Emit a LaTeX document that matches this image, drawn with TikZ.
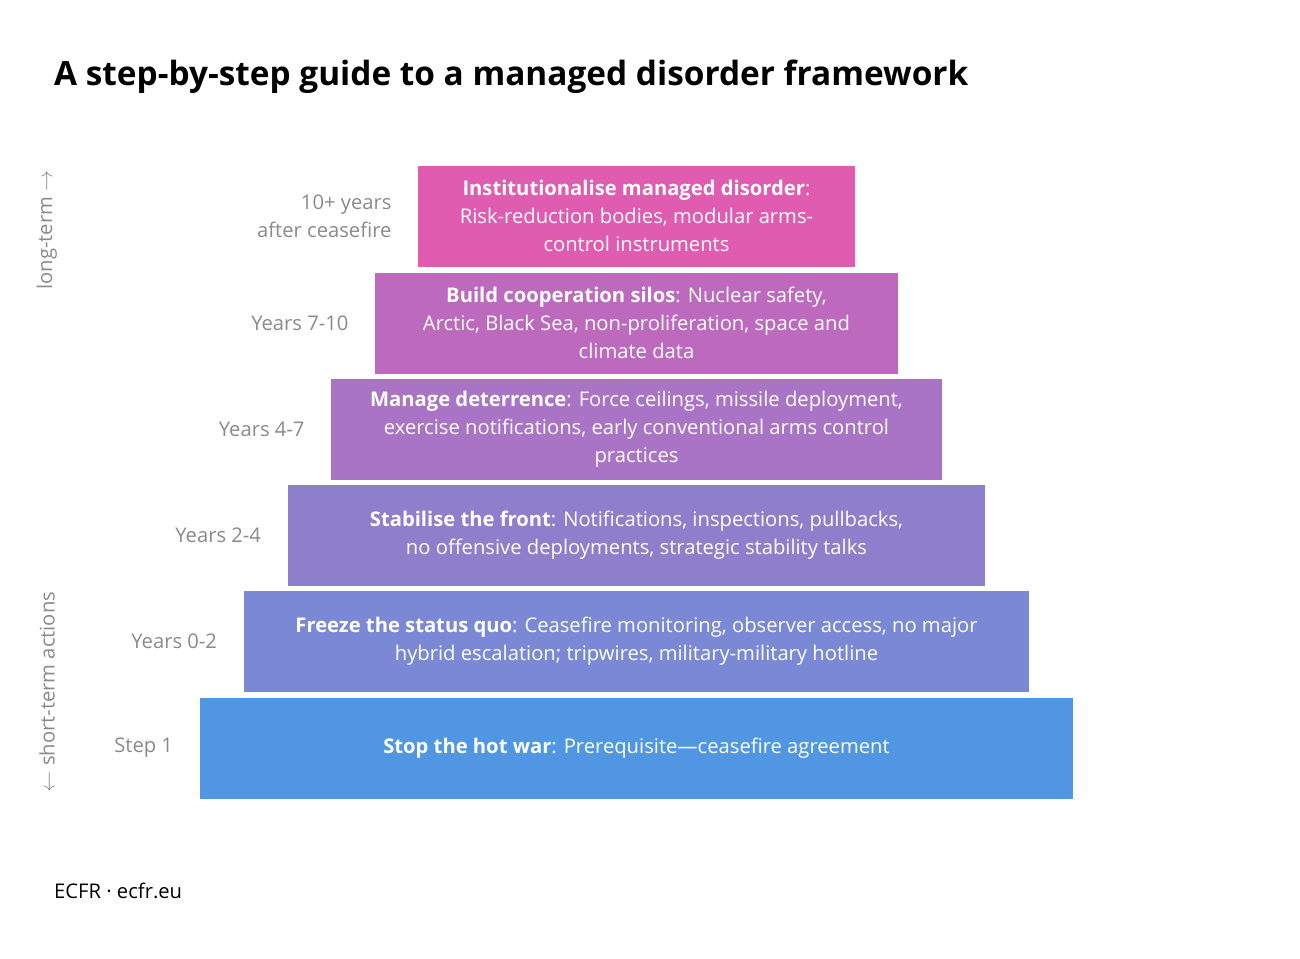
\documentclass[tikz,border=0pt]{standalone}
\usepackage{fontspec}
\setmainfont{Open Sans}
\usetikzlibrary{positioning}
\definecolor{stepA}{HTML}{E05CB1}
\definecolor{stepB}{HTML}{BC69BE}
\definecolor{stepC}{HTML}{A974C6}
\definecolor{stepD}{HTML}{8E7FCD}
\definecolor{stepE}{HTML}{7B88D6}
\definecolor{stepF}{HTML}{5196E2}
\definecolor{labelgray}{HTML}{8A8A8A}
\begin{document}
\begin{tikzpicture}[
        x=0.02cm, y=-0.02cm,
        % box style
        step_box/.style={
            draw=none,
            text=white,
            minimum height=2.02cm,
            align=center,
            inner sep=0pt,
            font=\fontsize{11.5}{16}\selectfont
        },
        % year label style
        year_label/.style={
            anchor=east,
            align=right,
            text=labelgray,
            font=\fontsize{11.5}{16}\selectfont
        },
        side_label/.style={
            rotate=90,
            text=labelgray,
            font=\fontsize{11.5}{14}\selectfont
        }
    ]
        \useasboundingbox (0,0) rectangle (1300,958);

        % title
        \node[anchor=west, font=\fontsize{19}{22}\selectfont\bfseries] (title) at (48,77)
            {A step-by-step guide to a managed disorder framework};

        % ==========================
        % steps
        % ==========================
        \node[step_box, fill=stepA, minimum width=8.74cm] (s6) at (636.5,216)
            {\textbf{Institutionalise managed disorder}:\\Risk-reduction bodies, modular arms-\\control instruments};
        \node[step_box, fill=stepB, minimum width=10.46cm] (s5) at (636.5,323)
            {\textbf{Build cooperation silos}: Nuclear safety,\\Arctic, Black Sea, non-proliferation, space and\\climate data};
        \node[step_box, fill=stepC, minimum width=12.22cm] (s4) at (636.5,429)
            {\textbf{Manage deterrence}: Force ceilings, missile deployment,\\exercise notifications, early conventional arms control\\practices};
        \node[step_box, fill=stepD, minimum width=13.96cm] (s3) at (636.5,535)
            {\textbf{Stabilise the front}: Notifications, inspections, pullbacks,\\no offensive deployments, strategic stability talks};
        \node[step_box, fill=stepE, minimum width=15.72cm] (s2) at (636.5,641)
            {\textbf{Freeze the status quo}: Ceasefire monitoring, observer access, no major\\hybrid escalation; tripwires, military-military hotline};
        \node[step_box, fill=stepF, minimum width=17.48cm] (s1) at (636.5,748)
            {\textbf{Stop the hot war}: Prerequisite---ceasefire agreement};

        % year labels
        \node[year_label, left=0.4cm of s6] (y6) {10+ years\\after ceasefire};
        \node[year_label, left=0.4cm of s5] (y5) {Years 7-10};
        \node[year_label, left=0.4cm of s4] (y4) {Years 4-7};
        \node[year_label, left=0.4cm of s3] (y3) {Years 2-4};
        \node[year_label, left=0.4cm of s2] (y2) {Years 0-2};
        \node[year_label, left=0.4cm of s1] (y1) {Step 1};

        % side labels
        \node[side_label] (longterm) at (47,230) {long-term $\rightarrow$};
        \node[side_label] (shortterm) at (47,692) {$\leftarrow$ short-term actions};

        % source
        \node[anchor=west, font=\fontsize{11.5}{14}\selectfont] (source) at (48,891) {ECFR · ecfr.eu};
    \end{tikzpicture}
\end{document}
